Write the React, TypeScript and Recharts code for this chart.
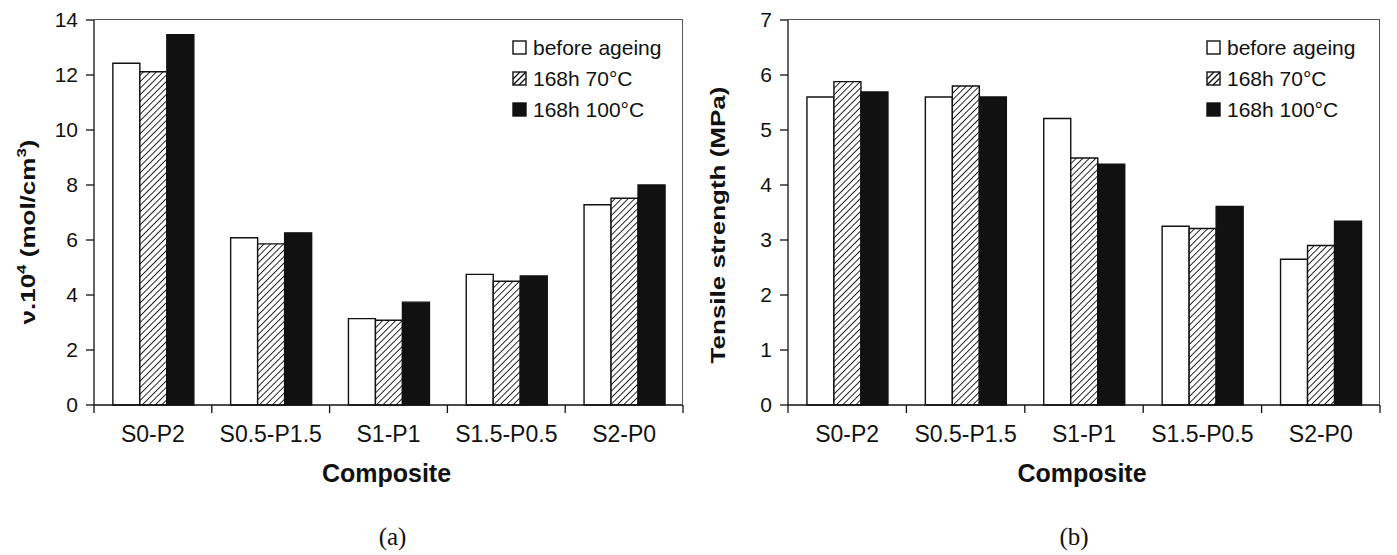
import React from "react";
import { BarChart, Bar, XAxis, YAxis, Legend } from "recharts";

// composites (x categories)
const composites = ["S0-P2", "S0.5-P1.5", "S1-P1", "S1.5-P0.5", "S2-P0"];
const seriesNames = ["before ageing", "168h 70°C", "168h 100°C"];

// (a) crosslink density v.10^4 (mol/cm3)
const crosslinkBefore = [12.43, 6.08, 3.14, 4.75, 7.28];
const crosslink70 = [12.12, 5.86, 3.08, 4.5, 7.52];
const crosslink100 = [13.47, 6.26, 3.74, 4.69, 8.0];
const crosslinkTicks = [0, 2, 4, 6, 8, 10, 12, 14];

// (b) tensile strength (MPa)
const tensileBefore = [5.6, 5.6, 5.21, 3.25, 2.65];
const tensile70 = [5.88, 5.8, 4.49, 3.21, 2.9];
const tensile100 = [5.69, 5.6, 4.38, 3.61, 3.34];
const tensileTicks = [0, 1, 2, 3, 4, 5, 6, 7];

const SANS = '"Liberation Sans", Arial, sans-serif';
const SERIF = '"Liberation Serif", "Times New Roman", serif';
const INK = "#111";
const FRAME = "#555";

const CHART_W = 695;
const CHART_H = 555;
const AXIS_W = 94;
const TOP = 20;
const X_AXIS_H = 150;
const PLOT_H = CHART_H - TOP - X_AXIS_H;

const crosslinkRows = composites.map((name, i) => ({
  name,
  before: crosslinkBefore[i],
  h70: crosslink70[i],
  h100: crosslink100[i],
}));

const tensileRows = composites.map((name, i) => ({
  name,
  before: tensileBefore[i],
  h70: tensile70[i],
  h100: tensile100[i],
}));

function LegendMarker({ index }: { index: number }) {
  if (index === 0) {
    return (
      <svg width={15} height={15}>
        <rect x={1} y={1} width={13} height={13} fill="#fff" stroke={INK} strokeWidth={1.4} />
      </svg>
    );
  }
  if (index === 1) {
    return (
      <svg width={15} height={15}>
        <rect x={1} y={1} width={13} height={13} fill="#fff" stroke={INK} strokeWidth={1.4} />
        <line x1={1} y1={14} x2={14} y2={1} stroke={INK} strokeWidth={1.4} />
        <line x1={1} y1={8} x2={8} y2={1} stroke={INK} strokeWidth={1.2} />
        <line x1={7} y1={14} x2={14} y2={7} stroke={INK} strokeWidth={1.2} />
      </svg>
    );
  }
  return (
    <svg width={15} height={15}>
      <rect x={1} y={1} width={13} height={13} fill={INK} stroke={INK} strokeWidth={1.4} />
    </svg>
  );
}

function LegendBox() {
  return (
    <div style={{ fontFamily: SANS, fontSize: 21, color: INK }}>
      {seriesNames.map((name, i) => (
        <div
          key={name}
          style={{ height: 31, display: "flex", alignItems: "center" }}
        >
          <LegendMarker index={i} />
          <span style={{ marginLeft: 6, lineHeight: "31px" }}>{name}</span>
        </div>
      ))}
    </div>
  );
}

function RotatedTitle({
  cx,
  cy,
  children,
}: {
  cx: number;
  cy: number;
  children: React.ReactNode;
}) {
  return (
    <text
      transform={`translate(${cx},${cy}) rotate(-90) scale(1.3,1)`}
      textAnchor="middle"
      dominantBaseline="central"
      fontFamily={SANS}
      fontWeight="bold"
      fontSize={20}
      fill={INK}
    >
      {children}
    </text>
  );
}

// category label plus a tick mark on the category boundaries
function CategoryTick({ x, y, payload, band, lastName }: any) {
  const left = x - band / 2;
  const right = x + band / 2;
  const isLast = payload && payload.value === lastName;
  return (
    <g>
      <line x1={left} x2={left} y1={y} y2={y + 8} stroke={INK} strokeWidth={1.3} />
      {isLast && (
        <line x1={right} x2={right} y1={y} y2={y + 8} stroke={INK} strokeWidth={1.3} />
      )}
      <text
        x={x}
        y={y + 37}
        textAnchor="middle"
        fontFamily={SANS}
        fontSize={23}
        fill={INK}
      >
        {payload.value}
      </text>
    </g>
  );
}

function BottomCaption({ viewBox, tag, tagShift }: any) {
  const cx = viewBox ? viewBox.x + viewBox.width / 2 : 388;
  const y = viewBox ? viewBox.y : TOP + PLOT_H;
  return (
    <g>
      <text
        x={cx - 2}
        y={y + 77}
        textAnchor="middle"
        fontFamily={SANS}
        fontWeight="bold"
        fontSize={25}
        fill={INK}
      >
        Composite
      </text>
      <text
        x={cx + tagShift}
        y={y + 140}
        textAnchor="middle"
        fontFamily={SERIF}
        fontSize={25}
        fill={INK}
      >
        {tag}
      </text>
    </g>
  );
}

function AgeingChart({
  rows,
  ticks,
  hatchId,
  tag,
  tagShift,
  rightMargin,
  title,
}: {
  rows: typeof crosslinkRows;
  ticks: number[];
  hatchId: string;
  tag: string;
  tagShift: number;
  rightMargin: number;
  title: React.ReactNode;
}) {
  const top = ticks[ticks.length - 1];
  const plotW = CHART_W - AXIS_W - rightMargin;
  const band = plotW / rows.length;
  return (
    <div style={{ position: "relative", width: CHART_W, height: CHART_H }}>
      <BarChart
        width={CHART_W}
        height={CHART_H}
        data={rows}
        margin={{ top: TOP, right: rightMargin, left: 0, bottom: 0 }}
        barCategoryGap="16%"
        barGap={0}
      >
        <defs>
          <pattern
            id={hatchId}
            patternUnits="userSpaceOnUse"
            width={4.6}
            height={4.6}
            patternTransform="rotate(45)"
          >
            <rect width={4.6} height={4.6} fill="#fff" />
            <line x1={0} y1={0} x2={0} y2={4.6} stroke={INK} strokeWidth={1.8} />
          </pattern>
        </defs>
        <XAxis
          xAxisId="cat"
          dataKey="name"
          height={X_AXIS_H}
          interval={0}
          tickLine={false}
          tickSize={0}
          tickMargin={0}
          stroke={INK}
          strokeWidth={1.3}
          tick={
            <CategoryTick band={band} lastName={rows[rows.length - 1].name} />
          }
          label={(props: any) => (
            <BottomCaption {...props} tag={tag} tagShift={tagShift} />
          )}
        />
        <YAxis
          yAxisId="left"
          domain={[0, top]}
          ticks={ticks}
          width={AXIS_W}
          tickSize={8}
          tickMargin={8}
          stroke={INK}
          strokeWidth={1.3}
          tick={{ fontFamily: SANS, fontSize: 21, fill: INK }}
          label={() => title}
        />
        <Legend
          layout="vertical"
          align="center"
          verticalAlign="middle"
          content={() => <LegendBox />}
          wrapperStyle={{ position: "absolute", top: 32, left: 512, width: 180 }}
        />
        <Bar
          xAxisId="cat"
          yAxisId="left"
          dataKey="before"
          name={seriesNames[0]}
          fill="#fff"
          stroke={INK}
          strokeWidth={1.4}
          isAnimationActive={false}
        />
        <Bar
          xAxisId="cat"
          yAxisId="left"
          dataKey="h70"
          name={seriesNames[1]}
          fill={`url(#${hatchId})`}
          stroke={INK}
          strokeWidth={1.4}
          isAnimationActive={false}
        />
        <Bar
          xAxisId="cat"
          yAxisId="left"
          dataKey="h100"
          name={seriesNames[2]}
          fill={INK}
          stroke={INK}
          strokeWidth={1.4}
          isAnimationActive={false}
        />
      </BarChart>
      {/* top and right sides of the plot box */}
      <div
        style={{
          position: "absolute",
          left: AXIS_W,
          top: TOP - 1,
          width: plotW,
          height: PLOT_H,
          borderTop: `1px solid ${FRAME}`,
          borderRight: `1px solid ${FRAME}`,
          boxSizing: "border-box",
          pointerEvents: "none",
        }}
      />
    </div>
  );
}

export default function App() {
  return (
    <div
      style={{
        position: "absolute",
        left: 0,
        top: 0,
        width: 1397,
        height: 555,
        background: "#fff",
        fontFamily: SANS,
      }}
    >
      <div style={{ position: "absolute", left: 0, top: 0 }}>
        <AgeingChart
          rows={crosslinkRows}
          ticks={crosslinkTicks}
          hatchId="hatch-a"
          tag="(a)"
          tagShift={4}
          rightMargin={12}
          title={
            <RotatedTitle cx={28} cy={232}>
              ν.10
              <tspan dy={-7} fontSize={13}>
                4
              </tspan>
              <tspan dy={7}> (mol/cm</tspan>
              <tspan dy={-7} fontSize={13}>
                3
              </tspan>
              <tspan dy={7}>)</tspan>
            </RotatedTitle>
          }
        />
      </div>
      <div style={{ position: "absolute", left: 694, top: 0 }}>
        <AgeingChart
          rows={tensileRows}
          ticks={tensileTicks}
          hatchId="hatch-b"
          tag="(b)"
          tagShift={-10}
          rightMargin={9}
          title={
            <RotatedTitle cx={24} cy={225}>
              Tensile strength (MPa)
            </RotatedTitle>
          }
        />
      </div>
    </div>
  );
}
